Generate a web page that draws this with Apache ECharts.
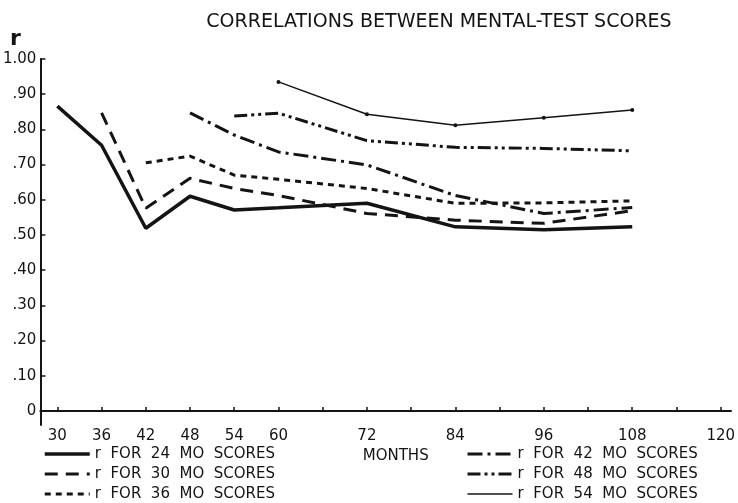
<!DOCTYPE html>
<html>
<head>
<meta charset="utf-8">
<script src="https://cdn.jsdelivr.net/npm/echarts@6/dist/echarts.min.js"></script>
<style>html,body{margin:0;padding:0;background:#fff;}#chart{width:738px;height:503px;}</style>
</head>
<body>
<div id="chart"></div>
<script>
// ---- data ----
const months = [30, 36, 42, 48, 54, 60, 72, 84, 96, 108];
const r24 = [0.866, 0.755, 0.519, 0.610, 0.571, 0.577, 0.590, 0.523, 0.515, 0.523];
const r30 = [null, 0.847, 0.576, 0.661, 0.632, 0.612, 0.561, 0.542, 0.533, 0.569];
const r36 = [null, null, 0.705, 0.724, 0.670, 0.658, 0.632, 0.590, 0.591, 0.597];
const r42 = [null, null, null, 0.847, 0.784, 0.736, 0.699, 0.612, 0.561, 0.578];
const r48 = [null, null, null, null, 0.838, 0.846, 0.768, 0.749, 0.746, 0.739];
const r54 = [null, null, null, null, null, 0.935, 0.843, 0.812, 0.833, 0.855];
const seriesNames = ['r  FOR  24  MO  SCORES', 'r  FOR  30  MO  SCORES', 'r  FOR  36  MO  SCORES',
                     'r  FOR  42  MO  SCORES', 'r  FOR  48  MO  SCORES', 'r  FOR  54  MO  SCORES'];
const xTickValues = [30, 36, 42, 48, 54, 60, 66, 72, 78, 84, 90, 96, 102, 108, 114, 120];
const xLabelValues = [30, 36, 42, 48, 54, 60, 72, 84, 96, 108, 120];
const yTickValues = [0, 0.1, 0.2, 0.3, 0.4, 0.5, 0.6, 0.7, 0.8, 0.9, 1.0];
const yTickLabels = ['0', '.10', '.20', '.30', '.40', '.50', '.60', '.70', '.80', '.90', '1.00'];

// ---- build ----
const ink = '#141414';
const font = 'DejaVu Sans';
function pairs(vals) {
  const out = [];
  vals.forEach((v, i) => { if (v !== null) out.push([months[i], v]); });
  return out;
}
const styles = [
  { width: 3.5, type: 'solid' },
  { width: 3, type: [13, 8] },
  { width: 3, type: [6, 5] },
  { width: 3, type: [15, 5, 3, 5] },
  { width: 3, type: [13, 4, 3, 4, 3, 4] },
  { width: 1.5, type: 'solid' }
];
const allVals = [r24, r30, r36, r42, r48, r54];
const series = allVals.map((vals, i) => ({
  name: seriesNames[i],
  type: 'line',
  data: pairs(vals),
  symbol: i === 5 ? 'circle' : 'none',
  symbolSize: 4,
  showSymbol: i === 5,
  itemStyle: { color: ink },
  lineStyle: { color: ink, width: styles[i].width, type: styles[i].type },
  animation: false
}));

function legendData(from, to) {
  return seriesNames.slice(from, to).map((n, j) => ({
    name: n,
    lineStyle: { width: styles[from + j].width, type: styles[from + j].type, color: ink }
  }));
}
const legendCommon = {
  orient: 'vertical', top: 446, padding: 0,
  itemHeight: 12, itemGap: 4,
  itemStyle: { opacity: 0 },
  textStyle: { fontFamily: font, fontSize: 15, lineHeight: 16, color: ink }
};

const chart = echarts.init(document.getElementById('chart'), null, { renderer: 'canvas' });
chart.setOption({
  backgroundColor: '#fff',
  animation: false,
  title: {
    text: 'CORRELATIONS BETWEEN MENTAL-TEST SCORES',
    left: 434, top: 8, textAlign: 'center',
    textStyle: { fontFamily: font, fontSize: 19, fontWeight: 'normal', color: ink }
  },
  grid: { left: 40, right: 5, top: 59, bottom: 78 },
  xAxis: {
    type: 'value', min: 27.7, max: 121.4,
    name: 'MONTHS', nameLocation: 'middle', nameGap: 20,
    nameTextStyle: { fontFamily: font, fontSize: 15, color: ink, padding: [0, 0, 0, 20] },
    axisLine: { lineStyle: { color: ink, width: 2 } },
    axisTick: { inside: true, length: 4, lineStyle: { color: ink, width: 1.5 }, customValues: xTickValues },
    axisLabel: { customValues: xLabelValues, fontFamily: font, fontSize: 15, color: ink, margin: 4 },
    splitLine: { show: false }
  },
  yAxis: {
    type: 'value', min: -0.04, max: 1.0,
    axisLine: { show: true, lineStyle: { color: ink, width: 2 } },
    axisTick: { show: true, inside: true, length: 5, lineStyle: { color: ink, width: 1.5 }, customValues: yTickValues },
    axisLabel: {
      customValues: yTickValues, fontFamily: font, fontSize: 15, color: ink, margin: 4,
      formatter: v => { const k = yTickValues.findIndex(t => Math.abs(t - v) < 1e-6); return k >= 0 ? yTickLabels[k] : ''; }
    },
    splitLine: { show: false }
  },
  legend: [
    Object.assign({}, legendCommon, { data: legendData(0, 3), left: 43, itemWidth: 45 }),
    Object.assign({}, legendCommon, { data: legendData(3, 6), left: 466, itemWidth: 45 })
  ],
  graphic: [
    { type: 'text', left: 10, top: 28, style: { text: 'r', font: 'bold 22px ' + font, fill: ink } }
  ],
  series: series
});
</script>
</body>
</html>
